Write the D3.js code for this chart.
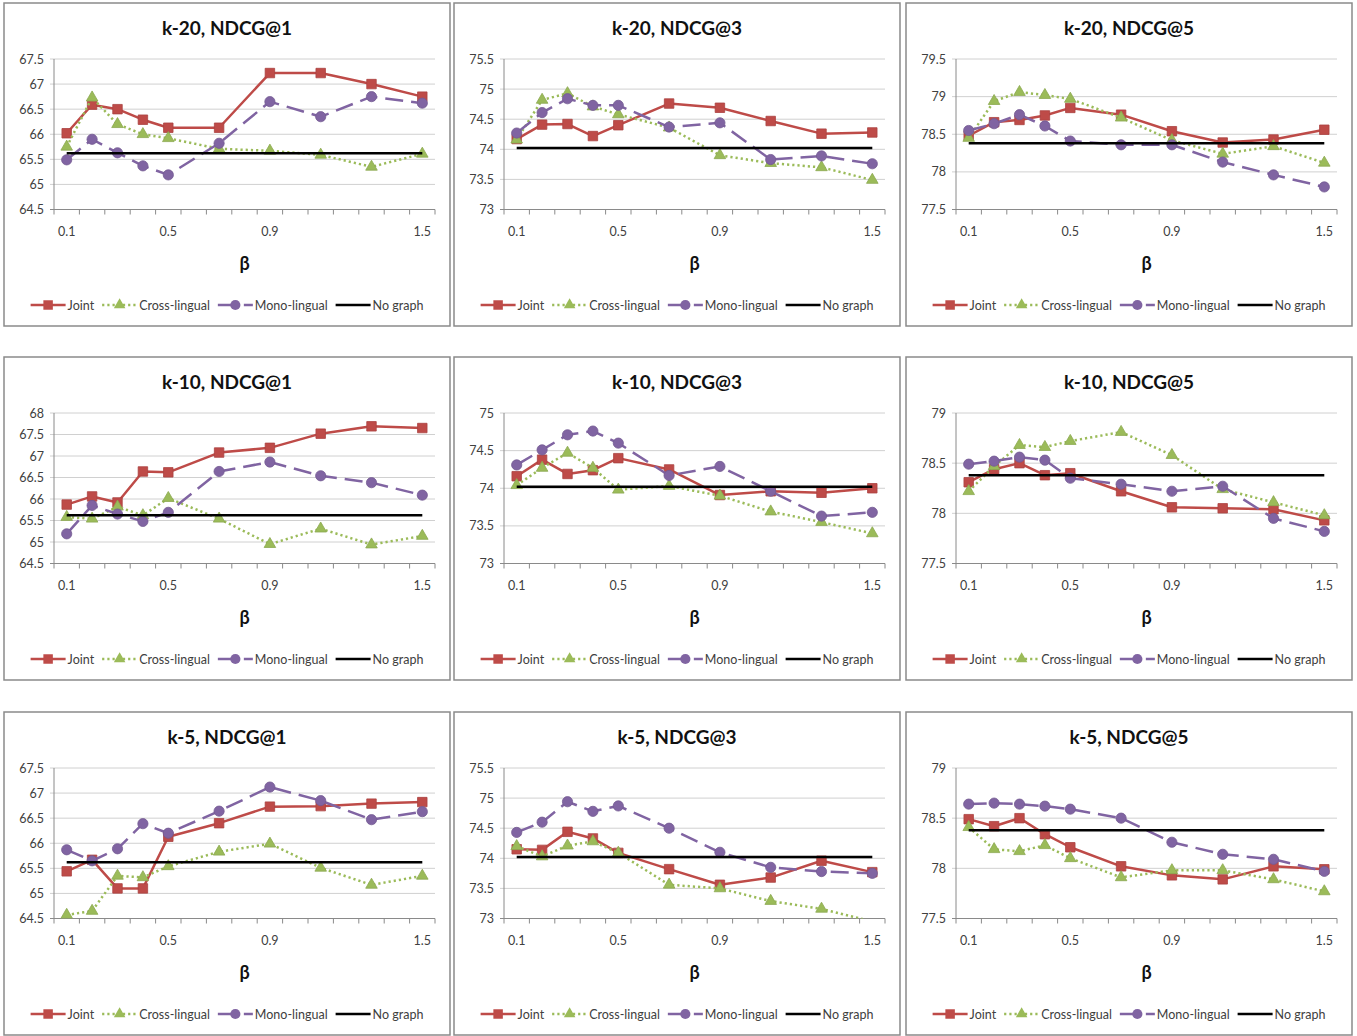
<!DOCTYPE html>
<html>
<head>
<meta charset="utf-8">
<script src="https://cdn.jsdelivr.net/npm/d3@7"></script>
<style>
body { margin: 0; background: #fff; }
svg { display: block; }
</style>
</head>
<body>
<div id="container"></div>
<script>
const betas = [0.1, 0.2, 0.3, 0.4, 0.5, 0.7, 0.9, 1.1, 1.3, 1.5];
const xTickLabels = [0.1, 0.5, 0.9, 1.5];
const kLabels = ["k-20", "k-10", "k-5"];
const metricLabels = ["NDCG@1", "NDCG@3", "NDCG@5"];
const seriesNames = ["Joint", "Cross-lingual", "Mono-lingual", "No graph"];

// y axis range of every panel, row by row
const yDomains = [
    [64.5, 67.5], [73, 75.5], [77.5, 79.5],
    [64.5, 68], [73, 75], [77.5, 79],
    [64.5, 67.5], [73, 75.5], [77.5, 79]
];

// no graph baseline, one per metric
const noGraph = [65.62, 74.02, 78.38];

// k-20
const jointK20N1 = [66.02, 66.59, 66.5, 66.29, 66.13, 66.13, 67.22, 67.22, 67.0, 66.75];
const crossK20N1 = [65.75, 66.73, 66.2, 66.0, 65.92, 65.71, 65.67, 65.59, 65.35, 65.61];
const monoK20N1 = [65.49, 65.9, 65.63, 65.37, 65.19, 65.82, 66.65, 66.35, 66.75, 66.62];

const jointK20N3 = [74.17, 74.41, 74.42, 74.22, 74.4, 74.76, 74.69, 74.47, 74.26, 74.28];
const crossK20N3 = [74.16, 74.82, 74.93, 74.71, 74.58, 74.36, 73.9, 73.77, 73.7, 73.49];
const monoK20N3 = [74.27, 74.61, 74.84, 74.73, 74.73, 74.37, 74.44, 73.83, 73.89, 73.76];

const jointK20N5 = [78.48, 78.66, 78.69, 78.75, 78.85, 78.76, 78.54, 78.39, 78.43, 78.56];
const crossK20N5 = [78.45, 78.94, 79.06, 79.02, 78.97, 78.72, 78.42, 78.24, 78.34, 78.12];
const monoK20N5 = [78.55, 78.64, 78.76, 78.61, 78.41, 78.36, 78.36, 78.13, 77.96, 77.8];

// k-10
const jointK10N1 = [65.87, 66.06, 65.92, 66.64, 66.62, 67.08, 67.19, 67.52, 67.69, 67.65];
const crossK10N1 = [65.58, 65.54, 65.82, 65.62, 66.02, 65.54, 64.95, 65.31, 64.94, 65.14];
const monoK10N1 = [65.19, 65.85, 65.65, 65.48, 65.69, 66.64, 66.86, 66.54, 66.38, 66.09];

const jointK10N3 = [74.16, 74.38, 74.19, 74.24, 74.4, 74.25, 73.91, 73.96, 73.94, 74.0];
const crossK10N3 = [74.04, 74.27, 74.47, 74.27, 73.98, 74.03, 73.9, 73.69, 73.55, 73.4];
const monoK10N3 = [74.31, 74.51, 74.71, 74.76, 74.6, 74.17, 74.29, 73.96, 73.63, 73.68];

const jointK10N5 = [78.31, 78.44, 78.5, 78.38, 78.4, 78.22, 78.06, 78.05, 78.04, 77.93];
const crossK10N5 = [78.22, 78.47, 78.68, 78.66, 78.72, 78.81, 78.58, 78.24, 78.11, 77.98];
const monoK10N5 = [78.49, 78.52, 78.56, 78.53, 78.35, 78.29, 78.22, 78.27, 77.95, 77.82];

// k-5
const jointK5N1 = [65.44, 65.67, 65.1, 65.1, 66.13, 66.4, 66.73, 66.74, 66.79, 66.82];
const crossK5N1 = [64.57, 64.65, 65.35, 65.32, 65.54, 65.83, 65.99, 65.51, 65.17, 65.35];
const monoK5N1 = [65.87, 65.65, 65.89, 66.39, 66.2, 66.64, 67.12, 66.85, 66.47, 66.63];

const jointK5N3 = [74.15, 74.14, 74.44, 74.33, 74.09, 73.82, 73.56, 73.68, 73.96, 73.77];
const crossK5N3 = [74.2, 74.03, 74.21, 74.28, 74.09, 73.56, 73.5, 73.29, 73.16, 72.95];
const monoK5N3 = [74.43, 74.6, 74.94, 74.78, 74.87, 74.5, 74.1, 73.85, 73.78, 73.75];

const jointK5N5 = [78.49, 78.42, 78.5, 78.34, 78.21, 78.02, 77.93, 77.89, 78.02, 77.99];
const crossK5N5 = [78.41, 78.19, 78.17, 78.23, 78.1, 77.91, 77.98, 77.98, 77.89, 77.77];
const monoK5N5 = [78.64, 78.65, 78.64, 78.62, 78.59, 78.5, 78.26, 78.14, 78.09, 77.97];

const panelSeries = [
    [jointK20N1, crossK20N1, monoK20N1], [jointK20N3, crossK20N3, monoK20N3], [jointK20N5, crossK20N5, monoK20N5],
    [jointK10N1, crossK10N1, monoK10N1], [jointK10N3, crossK10N3, monoK10N3], [jointK10N5, crossK10N5, monoK10N5],
    [jointK5N1, crossK5N1, monoK5N1], [jointK5N3, crossK5N3, monoK5N3], [jointK5N5, crossK5N5, monoK5N5]
];

const width = 1357;
const height = 1036;
const colLeft = [4, 454, 906];
const rowTop = [3, 357, 712];
const panelW = 446;
const panelH = 323;
const plot = {left: 50, top: 56, width: 381, height: 150.5};
const font = "Lato, 'Open Sans', sans-serif";

const styles = [
    {color: "#be4b48", dash: null, symbol: d3.symbolSquare, size: 90},
    {color: "#9bbb59", dash: "2.2,3", symbol: d3.symbolTriangle, size: 58},
    {color: "#8064a2", dash: "18,8", symbol: d3.symbolCircle, size: 82},
    {color: "#000000", dash: null, symbol: null, size: 0}
];

const svg = d3.select("#container").append("svg")
    .attr("width", width)
    .attr("height", height)
    .style("font-family", font);

const x = d3.scaleLinear().domain([0.05, 1.55]).range([0, plot.width]);
const xBoundaries = d3.range(16).map(i => 0.05 + i * 0.1);

panelSeries.forEach((series, p) => {
    const row = Math.floor(p / 3);
    const col = p % 3;
    const g = svg.append("g")
        .attr("transform", `translate(${colLeft[col]},${rowTop[row]})`);

    g.append("rect")
        .attr("width", panelW)
        .attr("height", panelH)
        .attr("fill", "#fff")
        .attr("stroke", "#8a8a8a")
        .attr("stroke-width", 1.5);

    g.append("text")
        .attr("x", panelW / 2)
        .attr("y", 32)
        .attr("text-anchor", "middle")
        .attr("font-weight", "bold")
        .attr("font-size", "19px")
        .attr("fill", "#111")
        .text(`${kLabels[row]}, ${metricLabels[col]}`);

    const y = d3.scaleLinear().domain(yDomains[p]).range([plot.height, 0]);
    const yTicks = d3.range(yDomains[p][0], yDomains[p][1] + 0.01, 0.5);

    const area = g.append("g").attr("transform", `translate(${plot.left},${plot.top})`);

    // gridlines
    area.selectAll("line.grid")
        .data(yTicks.slice(1))
        .enter()
        .append("line")
        .attr("class", "grid")
        .attr("x1", -4)
        .attr("x2", plot.width)
        .attr("y1", d => y(d))
        .attr("y2", d => y(d))
        .attr("stroke", "#d0d0d0")
        .attr("stroke-width", 1);

    // axes
    area.append("line")
        .attr("x1", 0).attr("x2", 0)
        .attr("y1", 0).attr("y2", plot.height)
        .attr("stroke", "#8a8a8a");
    area.append("line")
        .attr("x1", -4).attr("x2", plot.width)
        .attr("y1", plot.height).attr("y2", plot.height)
        .attr("stroke", "#8a8a8a");

    area.selectAll("line.xtick")
        .data(xBoundaries)
        .enter()
        .append("line")
        .attr("class", "xtick")
        .attr("x1", d => x(d))
        .attr("x2", d => x(d))
        .attr("y1", plot.height)
        .attr("y2", plot.height + 5)
        .attr("stroke", "#8a8a8a");

    area.selectAll("text.ylabel")
        .data(yTicks)
        .enter()
        .append("text")
        .attr("class", "ylabel")
        .attr("x", -10)
        .attr("y", d => y(d))
        .attr("text-anchor", "end")
        .attr("dominant-baseline", "central")
        .attr("font-size", "12.5px")
        .attr("fill", "#404040")
        .text(d => String(+d.toFixed(1)));

    area.selectAll("text.xlabel")
        .data(xTickLabels)
        .enter()
        .append("text")
        .attr("class", "xlabel")
        .attr("x", d => x(d))
        .attr("y", plot.height + 22)
        .attr("text-anchor", "middle")
        .attr("dominant-baseline", "central")
        .attr("font-size", "12.5px")
        .attr("fill", "#404040")
        .text(d => d);

    area.append("text")
        .attr("x", plot.width / 2)
        .attr("y", plot.height + 60)
        .attr("text-anchor", "middle")
        .attr("font-weight", "bold")
        .attr("font-size", "18px")
        .attr("fill", "#111")
        .text("β");

    const clipId = `clip-${p}`;
    area.append("clipPath")
        .attr("id", clipId)
        .append("rect")
        .attr("x", -6)
        .attr("y", -6)
        .attr("width", plot.width + 12)
        .attr("height", plot.height + 6);

    const lines = area.append("g").attr("clip-path", `url(#${clipId})`);

    const line = d3.line()
        .x((v, i) => x(betas[i]))
        .y(v => y(v));

    series.forEach((values, s) => {
        const st = styles[s];
        lines.append("path")
            .datum(values)
            .attr("d", line)
            .attr("fill", "none")
            .attr("stroke", st.color)
            .attr("stroke-width", 2.5)
            .attr("stroke-linejoin", "round")
            .attr("stroke-dasharray", st.dash);

        lines.selectAll(`path.marker-${s}`)
            .data(values.map((v, i) => ({b: betas[i], v})).filter(d => d.v >= yDomains[p][0]))
            .enter()
            .append("path")
            .attr("class", `marker-${s}`)
            .attr("transform", d => `translate(${x(d.b)},${y(d.v)})`)
            .attr("d", d3.symbol(st.symbol, st.size))
            .attr("fill", st.color)
            .attr("stroke", d3.color(st.color).darker(0.3))
            .attr("stroke-width", 0.8);
    });

    lines.append("line")
        .attr("x1", x(betas[0]))
        .attr("x2", x(betas[betas.length - 1]))
        .attr("y1", y(noGraph[col]))
        .attr("y2", y(noGraph[col]))
        .attr("stroke", "#000")
        .attr("stroke-width", 2.5);

    // legend
    const legend = g.append("g");
    let cursor = 0;
    seriesNames.forEach((name, s) => {
        const st = styles[s];
        const item = legend.append("g").attr("transform", `translate(${cursor},0)`);
        item.append("line")
            .attr("x1", 0).attr("x2", 35)
            .attr("y1", 0).attr("y2", 0)
            .attr("stroke", st.color)
            .attr("stroke-width", 2.5)
            .attr("stroke-dasharray", st.dash);
        if (st.symbol) {
            item.append("path")
                .attr("transform", "translate(17.5,0)")
                .attr("d", d3.symbol(st.symbol, st.size))
                .attr("fill", st.color);
        }
        const label = item.append("text")
            .attr("x", 37)
            .attr("y", 0)
            .attr("dominant-baseline", "central")
            .attr("font-size", "12.5px")
            .attr("fill", "#404040")
            .text(name);
        cursor += 37 + label.node().getComputedTextLength() + 8;
    });
    cursor -= 8;
    legend.attr("transform", `translate(${(panelW - cursor) / 2},302)`);
});
</script>
</body>
</html>
